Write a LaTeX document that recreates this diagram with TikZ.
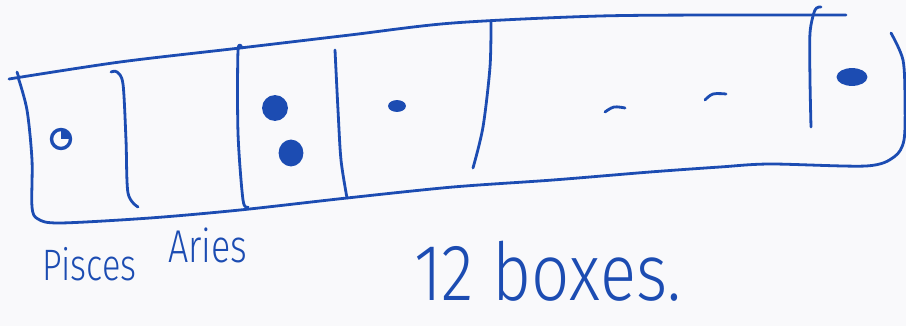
\documentclass[tikz,border=0pt]{standalone}
\usepackage{fontspec}
\setmainfont{Fira Sans}[UprightFont=* Light]
\definecolor{ink}{RGB}{28,76,178}
\definecolor{paper}{RGB}{249,249,251}
\begin{document}
\begin{tikzpicture}[x=1pt,y=-1pt,
  pen/.style={draw=ink,line width=2.8pt,line cap=round,line join=round},
  blob/.style={pen,fill=ink},
  hand/.style={text=ink,inner sep=0pt,anchor=base west}]
\fill[paper] (0,0) rectangle (906,326);
\useasboundingbox (0,0) rectangle (906,326);
% top line
\draw[pen] plot[smooth,tension=0.5] coordinates {(9,79) (120,62) (240,48) (350,35) (453,23) (600,16) (740,15) (846,15)};
\draw[pen] (17,72) -- (19,78);
% left side and bottom
\draw[pen] plot[smooth,tension=0.5] coordinates {(18,77) (27,110) (32,160) (32,207) (38,219) (60,223) (150,218) (240,210) (347,198) (453,187) (553,180) (650,172) (720,167) (770,164) (866,166) (894,157) (904,140) (905,100) (903,60) (891,33)};
% dividers
\draw[pen] plot[smooth,tension=0.5] coordinates {(111,72) (117,72) (123,84) (126,140) (128,193) (138,207)};
\draw[pen] plot[smooth,tension=0.5] coordinates {(242,48) (238,51) (238,133) (243,200) (248,207)};
\draw[pen] plot[smooth,tension=0.5] coordinates {(335,50) (338,110) (341,160) (347,198)};
\draw[pen] plot[smooth,tension=0.5] coordinates {(491,22) (490,67) (483,127) (473,168)};
\draw[pen] plot[smooth,tension=0.5] coordinates {(821,7) (815,10) (810,33) (810,80) (811,127)};
% dots
\draw[pen,line width=3.4pt] (61,139) circle[radius=9.5];
\fill[ink] (61,139) -- (61,129.5) arc[start angle=-90,end angle=0,radius=9.5] -- cycle;
\draw[blob] (275,108) circle[radius=11.5];
\draw[blob] (291,153) ellipse[x radius=11,y radius=12];
\draw[blob] (397,106) ellipse[x radius=7.5,y radius=4.5];
\draw[blob] (852,77) ellipse[x radius=14,y radius=7.5];
% dashes
\draw[pen] plot[smooth,tension=0.6] coordinates {(605,112) (614,107) (625,108)};
\draw[pen] plot[smooth,tension=0.6] coordinates {(705,100) (713,94) (726,94)};
% labels
\node[hand,font=\fontsize{44}{44}\selectfont,xscale=0.78,transform shape] (pisces) at (42,280) {Pisces};
\node[hand,font=\fontsize{80}{80}\selectfont,xscale=0.84,transform shape] (boxes) at (414,300) {12 boxes.};
\node[hand,font=\fontsize{46}{46}\selectfont,xscale=0.78,transform shape] (aries) at (168,262) {Aries};
\end{tikzpicture}
\end{document}
